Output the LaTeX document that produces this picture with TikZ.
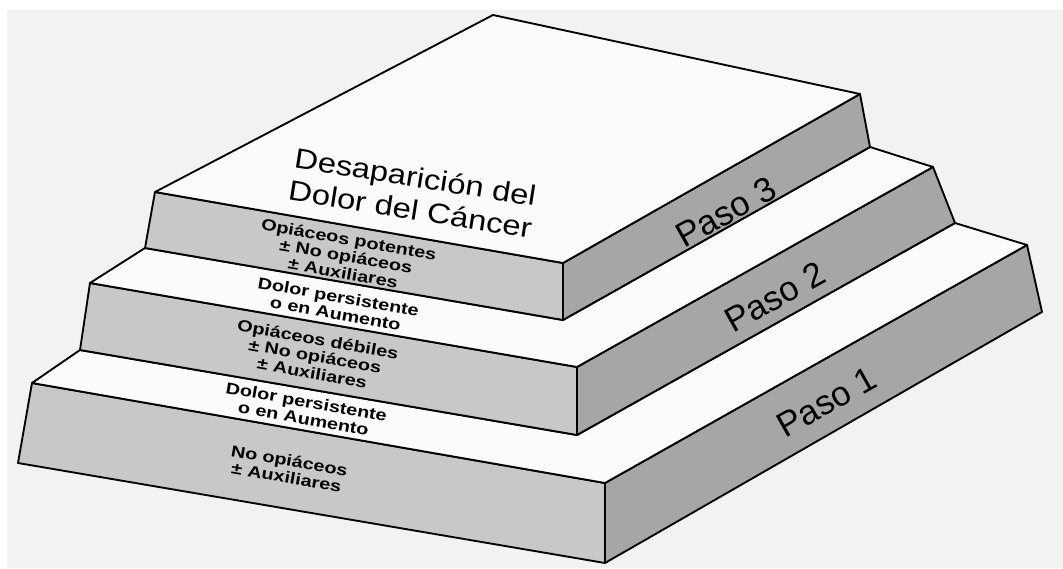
\documentclass[tikz,border=0pt]{standalone}
\usepackage{fontspec}
\setmainfont{Liberation Sans}
\begin{document}
\begin{tikzpicture}[x=0.75pt,y=-0.75pt,
  edge/.style={draw=black,line width=1.4pt,line join=round},
  topface/.style={edge,fill=topc},
  leftface/.style={edge,fill=leftc},
  rightface/.style={edge,fill=rightc},
  small/.style={font=\fontsize{12}{12.8}\selectfont\bfseries,align=center,rotate=-10,xscale=1.24,inner sep=0pt},
  paso/.style={font=\fontsize{26}{28}\selectfont,rotate=29.3,inner sep=0pt},
  big/.style={font=\fontsize{21}{24.5}\selectfont,align=center,rotate=-9,xscale=1.17,inner sep=0pt}]
\definecolor{topc}{HTML}{FBFBFB}
\definecolor{leftc}{HTML}{C8C8C8}
\definecolor{rightc}{HTML}{A6A6A6}
\definecolor{bgc}{HTML}{F2F2F2}
\useasboundingbox (0,0) rectangle (1063,568);
\fill[white] (0,0) rectangle (1063,568);
\fill[bgc] (7,10) rectangle (1063,568);
% vertices
\coordinate (T3L) at (155,192); \coordinate (T3B) at (493,15);
\coordinate (T3R) at (860,94);  \coordinate (T3F) at (563,263);
\coordinate (B3L) at (145,248); \coordinate (B3F) at (563,320); \coordinate (B3R) at (870,147);
\coordinate (T2L) at (90,283);  \coordinate (T2F) at (577,367); \coordinate (T2R) at (933,167);
\coordinate (B2L) at (80,350);  \coordinate (B2F) at (577,435); \coordinate (B2R) at (955,223);
\coordinate (T1L) at (32,383);  \coordinate (T1F) at (605,483); \coordinate (T1R) at (1027,245);
\coordinate (B1L) at (18,463);  \coordinate (B1F) at (605,563); \coordinate (B1R) at (1042,312);
% step 1
\path[leftface] (T1L) -- (T1F) -- (B1F) -- (B1L) -- cycle;
\path[rightface] (T1F) -- (T1R) -- (B1R) -- (B1F) -- cycle;
\path[topface] (T1L) -- (B2L) -- (B2F) -- (B2R) -- (T1R) -- (T1F) -- cycle;
% step 2
\path[leftface] (T2L) -- (T2F) -- (B2F) -- (B2L) -- cycle;
\path[rightface] (T2F) -- (T2R) -- (B2R) -- (B2F) -- cycle;
\path[topface] (T2L) -- (B3L) -- (B3F) -- (B3R) -- (T2R) -- (T2F) -- cycle;
% step 3
\path[leftface] (T3L) -- (T3F) -- (B3F) -- (B3L) -- cycle;
\path[rightface] (T3F) -- (T3R) -- (B3R) -- (B3F) -- cycle;
\path[topface] (T3L) -- (T3B) -- (T3R) -- (T3F) -- cycle;
% labels
\node[big] (goal) at (413,193) {Desaparición del\\Dolor del Cáncer};
\node[small] (s3) at (346,256) {Opiáceos potentes\\± No opiáceos\\± Auxiliares};
\node[small] (d2) at (337,305) {Dolor persistente\\o en Aumento};
\node[small] (s2) at (315,356) {Opiáceos débiles\\± No opiáceos\\± Auxiliares};
\node[small] (d1) at (305,410) {Dolor persistente\\o en Aumento};
\node[small] (s1) at (288,469) {No opiáceos\\± Auxiliares};
\node[paso] (p3) at (726,212) {Paso 3};
\node[paso] (p2) at (775,297) {Paso 2};
\node[paso] (p1) at (827,402) {Paso 1};
\end{tikzpicture}
\end{document}
